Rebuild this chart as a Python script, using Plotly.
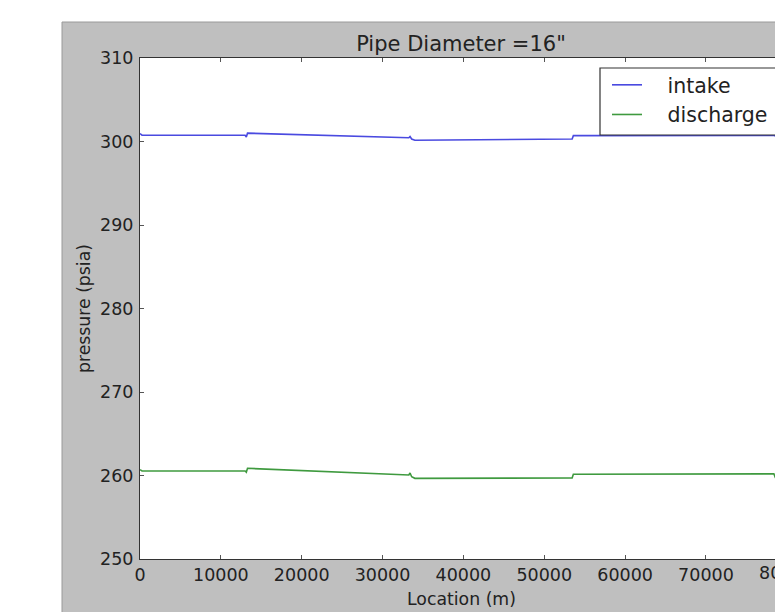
import plotly.graph_objects as go

# ---- data ----
loc_intake = [0, 250, 13000, 13150, 13300, 33250, 33400, 33600, 34000, 53300, 53450, 53600, 78500, 78700]
intake = [300.95, 300.75, 300.75, 300.55, 301.0, 300.45, 300.6, 300.3, 300.15, 300.35, 300.3, 300.7, 300.72, 300.5]

loc_discharge = [0, 250, 13000, 13150, 13300, 33250, 33400, 33600, 34000, 53300, 53450, 53600, 78400, 78600]
discharge = [260.7, 260.54, 260.54, 260.4, 260.86, 260.06, 260.3, 259.85, 259.66, 259.78, 259.7, 260.15, 260.2, 259.7]

x_ticks = [0, 10000, 20000, 30000, 40000, 50000, 60000, 70000, 80000]
y_ticks = [250, 260, 270, 280, 290, 300, 310]

X_MAX = 79530
Y_RANGE = [250, 310]

FONT = "DejaVu Sans"
GRAY = "#bfbfbf"
TXT = "#222222"
TICK_SIZE = 17.5

# the page body has an 8px margin, so the figure starts at (8, 8)
OFF = 8
W, H = 783 - OFF, 612 - OFF
ML, MR, MT, MB = 140 - OFF, 0, 58 - OFF, 612 - 559
PW, PH = W - ML - MR, H - MT - MB


def px_x(p):
    # page pixel -> paper x
    return (p - OFF - ML) / PW


def px_y(p):
    # page pixel -> paper y
    return (H - MB - (p - OFF)) / PH


fig = go.Figure()
fig.add_trace(go.Scatter(x=loc_intake, y=intake, mode="lines", name="\u2002\u2002intake",
                         line=dict(color="#4a4ae0", width=1.6)))
fig.add_trace(go.Scatter(x=loc_discharge, y=discharge, mode="lines", name="\u2002\u2002discharge",
                         line=dict(color="#3f9a3f", width=1.6)))

axis_common = dict(
    showgrid=False, zeroline=False, showline=True, linecolor="#333333", linewidth=1,
    ticks="inside", ticklen=4, tickcolor="#555555", tickwidth=1,
    tickfont=dict(family=FONT, size=TICK_SIZE, color=TXT),
)

fig.update_xaxes(range=[0, X_MAX], tickvals=x_ticks, ticktext=[str(v) for v in x_ticks],
                 mirror="allticks",
                 title=dict(text="Location (m)", font=dict(family=FONT, size=17.3, color=TXT), standoff=8),
                 **axis_common)
fig.update_yaxes(range=Y_RANGE, tickvals=y_ticks, ticktext=[str(v) for v in y_ticks],
                 mirror=False, ticklabelstandoff=2,
                 title=dict(text="pressure (psia)", font=dict(family=FONT, size=17.3, color=TXT), standoff=5),
                 **axis_common)

shapes = [
    # white area outside the figure frame (left and top)
    dict(type="rect", xref="paper", yref="paper", x0=px_x(-5), x1=px_x(62), y0=px_y(700), y1=px_y(-5),
         fillcolor="white", line=dict(width=0), layer="above"),
    dict(type="rect", xref="paper", yref="paper", x0=px_x(-5), x1=px_x(800), y0=px_y(22), y1=px_y(-5),
         fillcolor="white", line=dict(width=0), layer="above"),
    # figure frame border
    dict(type="rect", xref="paper", yref="paper", x0=px_x(62), x1=px_x(800), y0=px_y(700), y1=px_y(22),
         fillcolor="rgba(0,0,0,0)", line=dict(width=1, color="#9a9a9a"), layer="above"),
    # legend frame
    dict(type="rect", xref="paper", yref="paper", x0=px_x(600), x1=px_x(778), y0=px_y(135), y1=px_y(68),
         fillcolor="white", line=dict(width=1.2, color="#333333"), layer="above"),
]

annotations = [
    # partially visible 80000 tick label at the cropped right edge
    dict(text="80000", xref="paper", yref="paper", x=80000 / X_MAX, y=0, yshift=-14,
         xanchor="center", yanchor="middle", showarrow=False,
         font=dict(family=FONT, size=TICK_SIZE, color=TXT)),
]

fig.update_layout(
    width=W, height=H,
    margin=dict(l=ML, r=MR, t=MT, b=MB, autoexpand=False),
    paper_bgcolor=GRAY, plot_bgcolor="white",
    title=dict(text='Pipe Diameter =16"', x=(461 - OFF) / W,
               xanchor="center", y=1 - (44 - OFF) / H, yanchor="middle", yref="container",
               font=dict(family=FONT, size=21, color=TXT)),
    legend=dict(x=px_x(607), xanchor="left", y=px_y(65), yanchor="top",
                bgcolor="rgba(0,0,0,0)", borderwidth=0,
                font=dict(family=FONT, size=20.5, color=TXT), itemwidth=30,
                tracegroupgap=0),
    shapes=shapes,
    annotations=annotations,
    showlegend=True,
)

fig.write_html("out.html")
